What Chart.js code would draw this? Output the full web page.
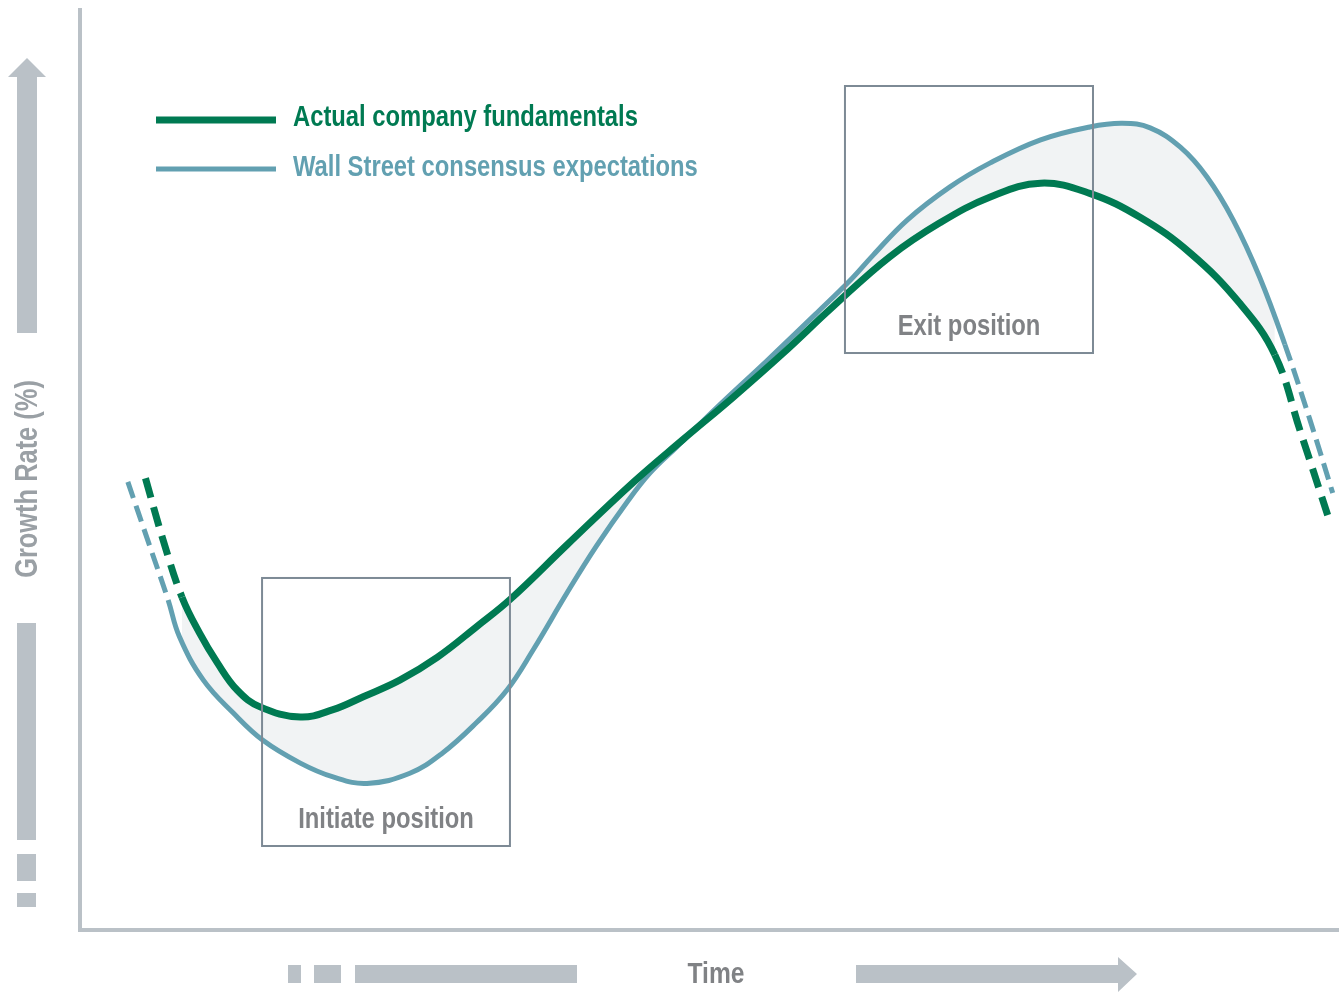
<!DOCTYPE html>
<html>
<head>
<meta charset="utf-8">
<script src="https://cdn.jsdelivr.net/npm/chart.js@4/dist/chart.umd.min.js"></script>
<style>
  html, body { margin: 0; padding: 0; background: #fff; }
  #wrap { width: 1339px; height: 993px; position: relative; }
</style>
</head>
<body>
<div id="wrap"><canvas id="grafica"></canvas></div>
<script>
// datos (tiempo 0-100, crecimiento 0-100)
const tiempoReal = [5.2, 6.6, 8.1, 9.5, 10.9, 12.5, 14.3, 17.5, 20.1, 22.5, 25.4, 28.4, 31.5, 34.2, 38.7, 43.9, 47.9, 51.9, 55.8, 59.8, 64.3, 68.3, 72.3, 76.3, 80.2, 84.2, 88.2, 92.1, 94.9, 96.9, 99.1];
const crecimientoReal = [49.0, 42.3, 36.1, 32.2, 29.0, 26.0, 24.2, 23.1, 23.9, 25.3, 27.1, 29.6, 32.9, 35.9, 41.8, 48.5, 53.2, 57.8, 62.5, 67.6, 73.0, 76.7, 79.5, 81.0, 79.9, 77.3, 73.4, 68.0, 62.4, 54.2, 45.0];

const tiempoConsenso = [3.8, 5.4, 7.0, 7.9, 9.8, 12.2, 14.5, 17.5, 20.1, 22.8, 26.2, 28.8, 31.5, 33.9, 36.0, 38.7, 41.0, 43.5, 45.3, 47.4, 50.6, 54.6, 58.5, 61.2, 63.0, 65.7, 69.1, 72.3, 76.3, 80.2, 82.8, 85.0, 87.4, 89.5, 91.6, 93.7, 95.7, 97.7, 99.5];
const crecimientoConsenso = [48.6, 42.2, 35.8, 31.8, 27.1, 23.5, 20.6, 18.1, 16.6, 15.9, 17.0, 19.2, 22.5, 26.0, 30.4, 36.6, 41.6, 46.5, 49.6, 52.4, 56.7, 61.8, 66.9, 70.5, 73.2, 77.0, 80.6, 83.2, 85.7, 87.1, 87.5, 87.0, 84.9, 81.7, 77.0, 70.8, 63.5, 55.3, 47.4];

// tramo continuo de cada linea (fuera de el la linea va discontinua)
const tramoReal = [8.1, 94.9];
const tramoConsenso = [7.0, 95.7];

const series = ["Actual company fundamentals", "Wall Street consensus expectations"];
const cajas = ["Initiate position", "Exit position"];
const cajasX = [[14.46, 34.15], [60.76, 80.46]];
const cajasY = [[9.11, 38.18], [62.58, 91.54]];
const tituloX = "Time";
const tituloY = "Growth Rate (%)";

const VERDE = "#007a52";
const AZUL = "#62a0b1";
const GRIS = "#bac1c7";
const FUENTE = "'Liberation Sans', Arial, sans-serif";
const ESTRECHO = 0.82;

const puntos = (xs, ys) => xs.map((x, i) => ({ x: x, y: ys[i] }));
const tramo = (xs, ys, r) => puntos(xs, ys).filter(p => p.x >= r[0] && p.x <= r[1]);
const guiones = (r, d) => ctx => (ctx.p0.parsed.x < r[0] || ctx.p1.parsed.x > r[1]) ? d : undefined;

// texto estrecho (imita Arial Narrow)
function texto(c, txt, x, y, tam, color, rot) {
  c.save();
  c.translate(x, y);
  if (rot) c.rotate(rot);
  c.scale(ESTRECHO, 1);
  c.font = "bold " + tam + "px " + FUENTE;
  c.fillStyle = color;
  c.fillText(txt, 0, 0);
  c.restore();
}

const decoracion = {
  id: "decoracion",
  afterDatasetsDraw(chart) {
    const c = chart.ctx;
    const a = chart.chartArea;
    const sx = chart.scales.x, sy = chart.scales.y;
    c.save();

    // ejes
    c.strokeStyle = GRIS;
    c.lineWidth = 4;
    c.beginPath();
    c.moveTo(a.left, a.top);
    c.lineTo(a.left, a.bottom);
    c.lineTo(a.right, a.bottom);
    c.stroke();

    // flecha vertical
    c.fillStyle = GRIS;
    c.beginPath();
    c.moveTo(27, 58); c.lineTo(46, 77); c.lineTo(37, 77); c.lineTo(37, 333);
    c.lineTo(17, 333); c.lineTo(17, 77); c.lineTo(8, 77); c.closePath();
    c.fill();
    c.fillRect(17, 623, 19, 217);
    c.fillRect(17, 854, 19, 27);
    c.fillRect(17, 893, 19, 14);

    // flecha horizontal
    c.fillRect(288, 965, 13, 18);
    c.fillRect(314, 965, 27, 18);
    c.fillRect(355, 965, 222, 18);
    c.beginPath();
    c.moveTo(856, 965); c.lineTo(1118, 965); c.lineTo(1118, 957); c.lineTo(1137, 974);
    c.lineTo(1118, 992); c.lineTo(1118, 983); c.lineTo(856, 983); c.closePath();
    c.fill();

    // titulos de ejes
    c.textBaseline = "middle";
    c.textAlign = "center";
    texto(c, tituloX, 716, 975, 30, "#808285");
    texto(c, tituloY, 28, 479, 31, "#9aa0a5", -Math.PI / 2);

    // leyenda
    c.lineWidth = 7;
    c.strokeStyle = VERDE;
    c.beginPath(); c.moveTo(156, 120); c.lineTo(276, 120); c.stroke();
    c.lineWidth = 5;
    c.strokeStyle = AZUL;
    c.beginPath(); c.moveTo(156, 169); c.lineTo(276, 169); c.stroke();
    c.textAlign = "left";
    texto(c, series[0], 293, 118, 29, VERDE);
    texto(c, series[1], 293, 168, 29, AZUL);

    // cajas
    c.lineWidth = 2;
    c.strokeStyle = "#7d8a95";
    c.textAlign = "center";
    cajas.forEach((txt, i) => {
      const x0 = sx.getPixelForValue(cajasX[i][0]);
      const x1 = sx.getPixelForValue(cajasX[i][1]);
      const y0 = sy.getPixelForValue(cajasY[i][1]);
      const y1 = sy.getPixelForValue(cajasY[i][0]);
      c.strokeRect(x0, y0, x1 - x0, y1 - y0);
      texto(c, txt, (x0 + x1) / 2, y1 - 26, 29, "#808285");
    });
    c.restore();
  }
};

new Chart(document.getElementById("grafica"), {
  type: "line",
  data: {
    datasets: [
      {
        label: series[0],
        data: puntos(tiempoReal, crecimientoReal),
        borderColor: VERDE,
        borderWidth: 7,
        pointRadius: 0,
        fill: false,
        order: 0,
        segment: { borderDash: guiones(tramoReal, [20, 10]) }
      },
      {
        label: series[1],
        data: puntos(tiempoConsenso, crecimientoConsenso),
        borderColor: AZUL,
        borderWidth: 5,
        pointRadius: 0,
        fill: false,
        order: 1,
        segment: { borderDash: guiones(tramoConsenso, [17, 8]) }
      },
      {
        label: "relleno",
        data: tramo(tiempoReal, crecimientoReal, tramoReal),
        borderWidth: 0,
        borderColor: "rgba(0,0,0,0)",
        backgroundColor: "#f1f3f4",
        pointRadius: 0,
        fill: { target: 3 },
        order: 2
      },
      {
        label: "relleno2",
        data: tramo(tiempoConsenso, crecimientoConsenso, tramoConsenso),
        borderWidth: 0,
        borderColor: "rgba(0,0,0,0)",
        pointRadius: 0,
        fill: false,
        order: 3
      }
    ]
  },
  options: {
    responsive: true,
    maintainAspectRatio: false,
    animation: false,
    layout: { padding: { left: 80, top: 8, right: 0, bottom: 63 } },
    plugins: { legend: { display: false }, tooltip: { enabled: false } },
    elements: { line: { tension: 0.4, capBezierPoints: true } },
    scales: {
      x: { type: "linear", min: 0, max: 100, display: false },
      y: { type: "linear", min: 0, max: 100, display: false }
    }
  },
  plugins: [decoracion]
});
</script>
</body>
</html>
